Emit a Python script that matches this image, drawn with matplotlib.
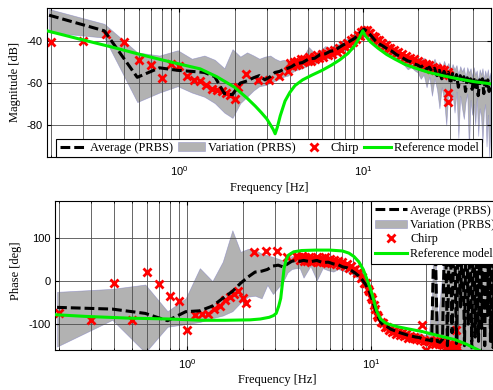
import matplotlib
matplotlib.use("Agg")
import numpy as np
import matplotlib.pyplot as plt
from matplotlib.ticker import LogLocator, FuncFormatter, NullFormatter, FixedLocator

plt.rcParams['font.family'] = 'Liberation Serif'
plt.rcParams['axes.unicode_minus'] = False

# PRBS frequency grid [Hz]
f_prbs = [0.195, 0.39, 0.59, 0.78, 0.98, 1.17, 1.37, 1.56, 1.76, 1.95,
          2.15, 2.34, 2.54, 2.73, 2.93, 3.13, 3.32, 3.52, 3.71, 3.91,
          4.10, 4.30, 4.69, 5.08, 5.47, 5.86, 6.25, 6.64, 7.03, 7.42,
          7.81, 8.20, 8.59, 8.98, 9.38, 9.77, 10.16, 10.55, 10.94, 11.33,
          11.72, 12.30, 12.89, 13.67, 14.45, 15.23, 16.02, 16.80, 17.58, 18.36,
          19.14, 19.92, 20.70, 21.48, 22.27, 23.05, 23.83, 24.61, 25.39, 26.17,
          26.95, 27.73, 28.52, 29.30, 30.08, 30.86, 31.64, 32.42, 33.20, 33.98,
          34.77, 35.55, 36.33, 37.11, 37.89, 38.67, 39.45, 40.23, 41.02, 41.80,
          42.58, 43.36, 44.14, 44.92, 45.70, 46.48, 47.27, 48.05, 48.83, 49.61]

# magnitude [dB]: PRBS average and variation band
mag_avg = [-27.9, -35.3, -57.3, -52.8, -54.0, -54.5, -55.0, -57.0, -65.0, -65.5,
           -60.0, -59.0, -57.5, -56.5, -58.5, -57.0, -55.0, -54.5, -53.5, -53.0,
           -52.2, -51.0, -50.3, -48.6, -48.3, -46.5, -46.2, -45.0, -44.6, -43.2,
           -42.0, -41.0, -40.0, -39.0, -37.5, -35.8, -34.5, -35.5, -37.0, -38.5,
           -40.0, -41.5, -42.5, -44.0, -45.0, -46.5, -47.5, -48.5, -49.5, -50.0,
           -51.0, -51.5, -52.5, -51.5, -53.5, -52.5, -54.5, -53.0, -56.5, -54.0,
           -58.0, -54.5, -57.0, -55.0, -60.5, -55.5, -58.5, -56.0, -62.0, -56.5,
           -60.0, -57.0, -64.0, -57.5, -60.5, -58.0, -63.0, -57.5, -62.0, -59.0,
           -66.0, -58.5, -61.5, -58.0, -65.0, -59.0, -62.5, -58.5, -64.0, -60.0]
mag_hi = [-25.0, -32.0, -45.5, -47.0, -44.5, -48.5, -47.0, -49.0, -53.0, -44.0,
          -47.5, -45.5, -47.0, -48.5, -47.5, -47.0, -48.5, -49.5, -49.0, -50.0,
          -50.0, -49.0, -48.0, -43.0, -46.0, -44.5, -42.5, -43.5, -42.0, -41.5,
          -40.0, -39.0, -38.0, -37.0, -35.5, -34.0, -33.0, -33.5, -35.0, -36.5,
          -38.0, -39.5, -40.5, -42.0, -43.0, -44.0, -45.5, -46.0, -47.5, -48.0,
          -49.0, -49.0, -49.5, -48.0, -50.5, -49.0, -51.0, -48.5, -52.0, -50.0,
          -53.5, -49.5, -52.5, -50.5, -55.0, -51.0, -53.5, -51.5, -56.0, -52.0,
          -54.5, -52.5, -57.5, -52.5, -55.0, -53.0, -57.0, -52.5, -56.0, -54.0,
          -59.0, -53.5, -56.0, -53.0, -58.0, -54.0, -57.0, -53.5, -58.0, -55.0]
mag_lo = [-36.0, -38.5, -69.0, -64.5, -61.5, -64.5, -66.5, -69.5, -74.0, -76.5,
          -69.5, -66.5, -63.5, -61.5, -61.0, -60.0, -59.0, -58.0, -57.0, -56.5,
          -55.0, -54.0, -53.0, -51.5, -51.0, -49.5, -48.5, -48.0, -47.0, -46.0,
          -44.5, -43.5, -42.5, -41.0, -39.5, -37.5, -36.5, -37.5, -39.0, -40.5,
          -42.0, -43.5, -44.5, -46.5, -47.5, -49.0, -50.0, -51.5, -53.5, -52.5,
          -54.0, -55.0, -58.0, -56.0, -62.0, -57.0, -66.0, -58.0, -63.0, -72.0,
          -62.0, -68.0, -80.0, -63.0, -70.0, -65.0, -74.0, -64.0, -86.0, -66.0,
          -72.0, -77.0, -69.0, -65.0, -92.0, -68.0, -75.0, -70.0, -80.0, -67.0,
          -85.0, -72.0, -76.0, -88.0, -74.0, -70.0, -90.0, -75.0, -95.0, -82.0]

# phase [deg]: PRBS average and variation band
ph_avg = [-61, -65, -75, -92, -71, -69, -58, -40, -24, -5,
          10, 21, 23, 27, 35, 37, 33, 40, 46, 48,
          46, 48, 45, 48, 43, 44, 40, 38, 33, 31,
          25, 19, 12, 3, -8, -22, -42, -63, -82, -95,
          -103, -106, -112, -116, -120, -123, -126, -128, -130, -131,
          -134, -136, -137, -139, 175, -140, -142, -135, 170, -150,
          185, -120, 160, -145, 185, -60, 150, -150, 185, -100,
          120, -155, 185, -130, 90, -140, 185, -110, 170, -150,
          185, -80, 185, -140, 140, -155, 185, -120, 185, -145]
ph_hi = [-25, -18, -8, -70, -40, 30, 0, 45, 118, 68,
         75, 72, 64, 60, 56, 52, 48, 55, 58, 60,
         56, 60, 57, 60, 55, 56, 52, 50, 45, 42,
         31, 25, 18, 10, -1, -14, -36, -57, -75, -88,
         -96, -100, -106, -110, -114, -117, -119, -120, -122, -120,
         -124, -125, -120, -60, 185, -100, -40, 20, 185, 60,
         185, 100, 185, 140, 185, 185, 185, 120, 185, 185,
         185, 150, 185, 185, 185, 130, 185, 185, 185, 160,
         185, 185, 185, 185, 185, 170, 185, 185, 185, 185]
ph_lo = [-152, -90, -166, -106, -100, -95, -86, -80, -70, -50,
         -36, -34, -40, -9, -30, -15, -2, 20, 28, 30,
         30, 8, 35, 2, 30, 25, 22, 28, 24, 22,
         19, 12, 5, -4, -16, -32, -55, -73, -90, -102,
         -110, -113, -118, -122, -126, -129, -132, -134, -136, -137,
         -140, -142, -145, -150, -148, -155, -152, -160, -150, -165,
         -160, -165, -158, -165, -162, -165, -160, -165, -163, -165,
         -158, -165, -162, -165, -160, -165, -163, -165, -158, -165,
         -162, -165, -160, -165, -163, -165, -160, -165, -162, -165]

# chirp measurement
f_chirp = [0.2, 0.3, 0.4, 0.5, 0.6, 0.7, 0.8, 0.9, 1.0, 1.1,
           1.2, 1.3, 1.4, 1.5, 1.6, 1.7, 1.8, 1.9, 2.0, 2.1,
           2.3, 2.7, 3.1, 3.5, 3.9,
           4.0, 4.1, 4.2, 4.3, 4.4, 4.5, 4.6, 4.7, 4.8, 5.0,
           5.1, 5.2, 5.4, 5.5, 5.6, 5.8, 6.0, 6.1, 6.3, 6.5,
           6.6, 6.8, 7.0, 7.2, 7.4, 7.6, 7.8, 8.0, 8.2, 8.4,
           8.6, 8.8, 9.0, 9.2, 9.4, 9.6, 9.8, 10.0, 10.2, 10.4,
           10.6, 10.8, 11.0, 11.3, 11.6, 11.9, 12.2, 12.5, 12.8, 13.1,
           13.4, 13.7, 14.0, 14.4, 14.8, 15.2, 15.6, 16.0, 16.4, 16.8,
           17.2, 17.6, 18.0, 18.5, 19.0, 19.5, 20.0, 20.5, 21.0, 21.5,
           22.0, 22.5, 23.0, 23.6, 24.2, 24.8, 25.4, 26.0, 26.6, 27.2,
           27.8, 28.4, 29.0, 29.3, 29.3, 29.6]
mag_chirp = [-40.8, -40.3, -36.9, -40.5, -49.1, -51.3, -57.6, -51.0, -51.8, -56.9,
             -58.4, -59.2, -60.8, -62.8, -63.5, -63.8, -64.5, -65.5, -67.4, -62.0,
             -55.5, -58.8, -58.8, -56.9, -54.4,
             -50.5, -52.0, -50.0, -51.5, -49.5, -50.8, -48.8, -50.2, -48.5, -49.8,
             -47.8, -49.5, -47.5, -48.8, -46.8, -48.2, -46.5, -47.8, -45.8, -46.8,
             -45.0, -46.2, -44.2, -45.3, -43.2, -44.2, -42.2, -43.0, -41.0, -41.8,
             -39.8, -40.5, -38.6, -39.0, -37.2, -37.6, -35.8, -36.0, -34.8, -35.6,
             -35.0, -36.4, -36.2, -37.8, -38.2, -39.8, -39.6, -41.2, -41.0, -42.4,
             -42.0, -43.6, -43.2, -44.8, -44.4, -46.0, -45.4, -47.0, -46.4, -48.0,
             -47.2, -48.8, -48.0, -49.6, -48.8, -50.4, -49.6, -51.2, -50.4, -52.0,
             -51.0, -52.6, -51.6, -53.2, -52.2, -53.8, -52.8, -54.4, -53.4, -55.0,
             -54.0, -55.6, -54.6, -64.6, -69.0, -56.0]
ph_chirp = [-74, -91, -5, -91, 21, -6, -35, -47, -114, -79,
            -76, -76, -65, -57, -45, -36, -30, -22, -39, -51,
            68, 69, 71, 56, 58,
            56, 48, 58, 46, 55, 47, 57, 45, 54, 46,
            56, 44, 53, 45, 55, 43, 51, 42, 50, 40,
            47, 38, 44, 35, 40, 31, 35, 26, 29, 18,
            20, 8, 9, -4, -5, -18, -22, -36, -42, -56,
            -64, -78, -84, -95, -98, -106, -106, -113, -111, -118,
            -115, -122, -118, -125, -121, -128, -124, -131, -127, -133,
            -129, -135, -131, -137, -102, -139, -160, -140, -136, -143,
            -138, -145, -140, -147, -142, -149, -144, -151, -146, -153,
            -148, -155, -150, -113, -160, -152]

# reference model
f_ref_mag = [0.19, 0.28, 0.43, 0.6, 0.8, 1.0, 1.3, 1.6, 2.0, 2.33,
             2.6, 2.8, 3.0, 3.15, 3.25, 3.33, 3.42, 3.55, 3.77, 4.0,
             4.27, 4.7, 5.27, 6.0, 6.76, 7.5, 8.3, 9.0, 9.6, 10.0,
             10.3, 11.0, 12.1, 13.5, 14.9, 17.0, 19.9, 23.0, 27.9, 33.0,
             40.0, 50.0]
mag_ref = [-35.3, -39.0, -43.0, -46.3, -49.0, -51.0, -53.3, -57.0, -62.0, -67.0,
           -71.0, -74.0, -77.0, -80.0, -82.0, -84.0, -81.0, -75.5, -68.5, -64.5,
           -61.2, -58.5, -56.3, -54.0, -51.5, -49.0, -46.0, -42.5, -38.5, -35.3,
           -37.5, -40.5, -43.5, -46.5, -48.6, -51.2, -53.3, -55.0, -56.7, -58.0,
           -59.3, -60.4]
f_ref_ph = [0.19, 0.28, 0.48, 0.8, 1.2, 1.6, 2.2, 2.5, 2.8, 2.95,
            3.05, 3.15, 3.23, 3.3, 3.37, 3.45, 3.55, 3.8, 4.2, 5.0,
            6.0, 7.0, 7.6, 8.1, 8.6, 9.1, 9.5, 9.9, 10.2, 10.5,
            10.8, 11.3, 12.0, 12.5, 14.0, 16.0, 19.0, 23.0, 28.8, 33.0,
            38.6, 42.0]
ph_ref = [-78, -82, -86, -88, -91, -91, -90, -88, -84, -80,
          -75, -58, -40, -5, 30, 48, 60, 68, 71, 72,
          72, 70, 65, 57, 45, 27, 6, -15, -32, -52,
          -71, -88, -97, -100, -106, -111, -117, -126, -136, -146,
          -160, -168]

W, H = 493, 390
fig = plt.figure(figsize=(W / 100, H / 100), dpi=100)
ax1 = fig.add_axes([47 / W, 1 - 157 / H, 444 / W, 149 / H])
ax2 = fig.add_axes([55 / W, 1 - 350 / H, 444 / W, 149 / H])

def dec_fmt(v, pos):
    return r'$\mathregular{10^{%d}}$' % int(round(np.log10(v)))

def draw(ax, avg, lo, hi, chirp, f_ref, ref):
    ax.fill_between(f_prbs, lo, hi, facecolor='0.45', alpha=0.55,
                    edgecolor='#7878c0', linewidth=0.5, zorder=1,
                    label='Variation (PRBS)')
    ax.plot(f_chirp, chirp, 'x', color='red', ms=5.5, mew=2, ls='none',
            zorder=2, label='Chirp')
    ax.plot(f_prbs, avg, color='black', lw=2.2, ls=(0, (3.2, 1.3)),
            zorder=3, label='Average (PRBS)')
    ax.plot(f_ref, ref, color='#00ee00', lw=2.2, zorder=4,
            label='Reference model')
    ax.set_xscale('log')
    ax.set_xlim(0.19, 50)
    ax.xaxis.set_major_locator(LogLocator(base=10))
    ax.xaxis.set_minor_locator(LogLocator(base=10, subs=np.arange(2, 10)))
    ax.xaxis.set_major_formatter(FuncFormatter(dec_fmt))
    ax.xaxis.set_minor_formatter(NullFormatter())
    ax.grid(True, which='both', axis='x', color='0.3', lw=0.6)
    ax.grid(True, which='major', axis='y', color='0.3', lw=0.6)
    ax.tick_params(which='both', direction='in', top=True, right=True,
                   labelfontfamily='Liberation Sans', labelsize=8)
    ax.tick_params(which='major', length=3)
    ax.tick_params(which='minor', length=1.5)
    ax.tick_params(axis='x', pad=5)
    ax.tick_params(axis='y', pad=3)
    for s in ax.spines.values():
        s.set_linewidth(0.8)

draw(ax1, mag_avg, mag_lo, mag_hi, mag_chirp, f_ref_mag, mag_ref)
ax1.set_ylim(-95, -24.5)
ax1.yaxis.set_major_locator(FixedLocator([-80, -60, -40]))
ax1.set_ylabel('Magnitude [dB]', fontsize=9)
ax1.yaxis.set_label_coords(-0.058, 0.5)
ax1.set_xlabel('Frequency [Hz]', fontsize=9)
ax1.xaxis.set_label_coords(0.5, -0.17)

draw(ax2, ph_avg, ph_lo, ph_hi, ph_chirp, f_ref_ph, ph_ref)
ax2.set_ylim(-160, 186)
ax2.yaxis.set_major_locator(FixedLocator([-100, 0, 100]))
ax2.set_ylabel('Phase [deg]', fontsize=9)
ax2.yaxis.set_label_coords(-0.074, 0.53)
ax2.set_xlabel('Frequency [Hz]', fontsize=9)
ax2.xaxis.set_label_coords(0.5, -0.16)

order = ['Average (PRBS)', 'Variation (PRBS)', 'Chirp', 'Reference model']

def legend(ax, size, **kw):
    h, l = ax.get_legend_handles_labels()
    d = dict(zip(l, h))
    leg = ax.legend([d[k] for k in order], order, fontsize=size, numpoints=1,
                    fancybox=False, framealpha=1, edgecolor='black',
                    borderaxespad=0, **kw)
    leg.get_frame().set_linewidth(0.8)
    leg.set_zorder(10)
    return leg

legend(ax1, 9, loc='lower center', ncol=4, columnspacing=0.4,
       handlelength=2.2, handletextpad=0.2, borderpad=0.25)
legend(ax2, 8.7, loc='upper right', bbox_to_anchor=(1, 1), ncol=1,
       handlelength=2.7, handletextpad=0.25, labelspacing=0.2, borderpad=0.3)

fig.savefig('out.png', dpi=100)
